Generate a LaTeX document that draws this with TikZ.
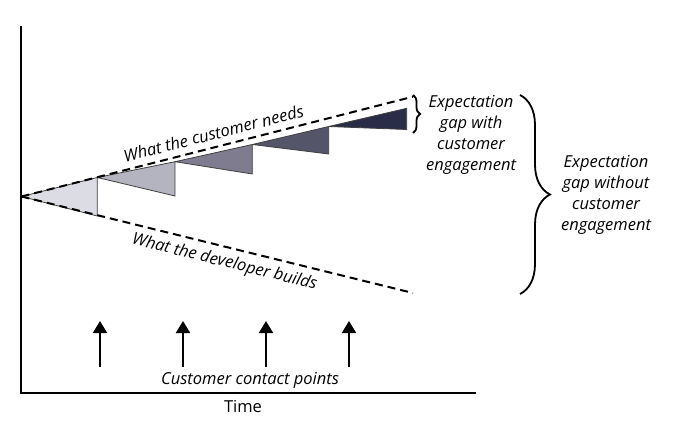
\documentclass[tikz,border=0pt]{standalone}
\usepackage{fontspec}
\setmainfont{Open Sans}
\usetikzlibrary{arrows.meta,decorations.pathreplacing}
\definecolor{tone1}{HTML}{DCDCE4}
\definecolor{tone2}{HTML}{B4B4C0}
\definecolor{tone3}{HTML}{7E7C8E}
\definecolor{tone4}{HTML}{55556A}
\definecolor{tone5}{HTML}{2A2D48}
\begin{document}
\begin{tikzpicture}[x=1pt,y=-1pt,
  axis/.style={line width=2.2pt},
  trend/.style={line width=2pt,dash pattern=on 8pt off 5pt},
  gapfill/.style={draw=black!75,line width=0.8pt,line join=round},
  contact/.style={line width=2pt,-{Triangle[width=14pt,length=12pt]}},
  lbl/.style={font=\fontsize{16.5}{21}\selectfont\itshape,align=center,inner sep=0pt},
  brc/.style={line width=1.8pt,decorate}
]
\useasboundingbox (0,0) rectangle (695,423);
% coordinates
\coordinate (o) at (21.5,196.5);
\coordinate (cn) at (413,96.7);
\coordinate (db) at (413,293);
\coordinate (yt) at (21,26);
\coordinate (xr) at (476,393);
\coordinate (c0) at (21,393);
% gaps
\coordinate (a1) at (97.3,177.5); \coordinate (b1) at (97.3,216);
\coordinate (a2) at (175,161.7);  \coordinate (b2) at (175,196);
\coordinate (a3) at (252.3,144.5);\coordinate (b3) at (252.3,174);
\coordinate (a4) at (328.7,126.5);\coordinate (b4) at (328.7,154);
\coordinate (a5) at (406.7,108.3);\coordinate (b5) at (406.7,129.5);
\filldraw[gapfill,fill=tone1] (o) -- (a1) -- (b1) -- cycle;
\filldraw[gapfill,fill=tone2] (a1) -- (a2) -- (b2) -- cycle;
\filldraw[gapfill,fill=tone3] (a2) -- (a3) -- (b3) -- cycle;
\filldraw[gapfill,fill=tone4] (a3) -- (a4) -- (b4) -- cycle;
\filldraw[gapfill,fill=tone5] (a4) -- (a5) -- (b5) -- cycle;
% trends
\draw[trend] (o) -- (cn);
\draw[trend] (o) -- (db);
% axes
\draw[axis] (yt) -- (c0) -- (xr);
% labels on trends
\node[lbl,rotate=14.2] (needs) at (213.5,133.5) {What the customer needs};
\node[lbl,rotate=-13.9] (builds) at (224.5,262.5) {What the developer builds};
% braces
\draw[brc,decoration={brace,amplitude=7pt}] (413,95) -- (413,133);
\node[lbl] (gapwith) at (471,134.5) {Expectation\\gap with\\customer\\engagement};
\draw[brc,decoration={brace,amplitude=30pt}] (520,95) -- (520,294);
\node[lbl] (gapwithout) at (606,195) {Expectation\\gap without\\customer\\engagement};
% contact arrows
\foreach \i/\xx in {1/100,2/183,3/266,4/349}{
  \coordinate (s\i) at (\xx,367);
  \coordinate (t\i) at (\xx,321);
  \draw[contact] (s\i) -- (t\i);
}
\node[lbl] (contacts) at (250,380) {Customer contact points};
\node[lbl,font=\fontsize{16.5}{21}\selectfont] (time) at (243,407) {Time};
\end{tikzpicture}
\end{document}
